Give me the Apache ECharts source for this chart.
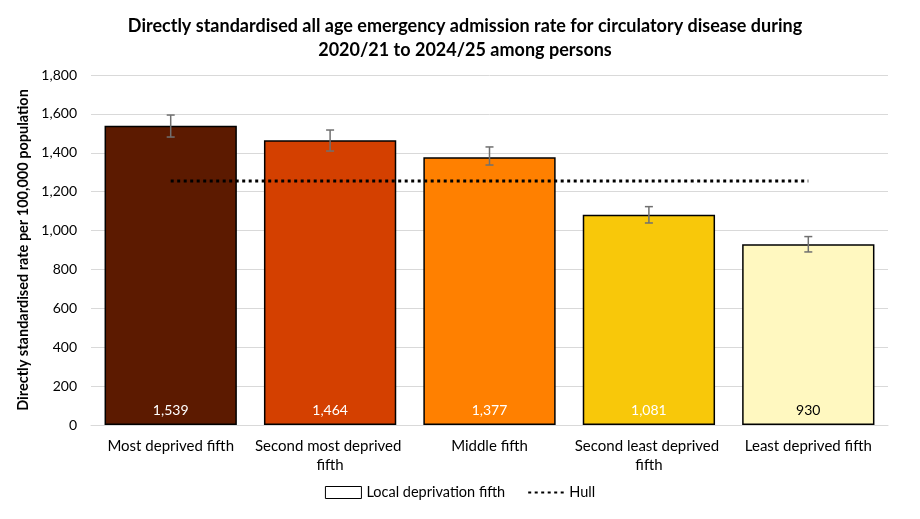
<!DOCTYPE html>
<html lang="en">
<head>
    <meta charset="UTF-8">
    <title>Emergency admission rate - circulatory disease</title>
    <script src="https://cdn.jsdelivr.net/npm/echarts@6/dist/echarts.min.js"></script>
    <style>
        body { margin: 0; background: #fff; }
        #main { width: 920px; height: 519px; }
    </style>
</head>
<body>
    <div id="main"></div>
</body>
<script>
    // values
    var categories = ['Most deprived fifth', 'Second most deprived fifth', 'Middle fifth', 'Second least deprived fifth', 'Least deprived fifth'];
    var rates = [1539, 1464, 1377, 1081, 930];
    var lowerCI = [1481, 1409, 1337, 1039, 890];
    var upperCI = [1594, 1517, 1430, 1123, 969];
    var hullRate = [1255, 1255, 1255, 1255, 1255];
    var barColors = ['#5C1A00', '#D44000', '#FF8000', '#F8C80A', '#FFF8C0'];
    var labelColors = ['#fff', '#fff', '#fff', '#fff', '#000'];

    var font = 'Lato, "Open Sans", sans-serif';

    var chart = echarts.init(document.getElementById('main'));
    chart.setOption({
        textStyle: { fontFamily: font },
        title: {
            text: 'Directly standardised all age emergency admission rate for circulatory disease during\n2020/21 to 2024/25 among persons',
            left: 460,
            top: 9,
            textAlign: 'center',
            textStyle: { fontSize: 18, fontWeight: 'bold', color: '#000', lineHeight: 24, fontFamily: font, align: 'center' }
        },
        legend: {
            bottom: 14,
            left: 'center',
            itemWidth: 36,
            itemHeight: 12,
            itemGap: 22,
            textStyle: { fontSize: 14.5, color: '#000', fontFamily: font },
            data: [
                { name: 'Local deprivation fifth', icon: 'rect', itemStyle: { color: '#fff', borderColor: '#000', borderWidth: 1 } },
                { name: 'Hull', itemStyle: { opacity: 0 } }
            ]
        },
        grid: { left: 91, right: 32, top: 75, bottom: 94 },
        xAxis: {
            type: 'category',
            data: categories,
            axisLine: { lineStyle: { color: '#d9d9d9' } },
            axisTick: { show: false },
            axisLabel: {
                color: '#000', fontSize: 15, margin: 12, lineHeight: 19,
                width: 160, overflow: 'break', interval: 0
            }
        },
        yAxis: {
            type: 'value',
            min: 0,
            max: 1800,
            interval: 200,
            name: 'Directly standardised rate per 100,000 population',
            nameLocation: 'middle',
            nameGap: 58,
            nameTextStyle: { fontSize: 14.5, fontWeight: 'bold', color: '#000' },
            axisLine: { show: false },
            axisTick: { show: false },
            axisLabel: {
                color: '#000', fontSize: 14, margin: 14,
                formatter: function (v) { return v.toLocaleString('en-GB'); }
            },
            splitLine: { lineStyle: { color: '#d9d9d9' } }
        },
        series: [
            {
                name: 'Local deprivation fifth',
                type: 'bar',
                barCategoryGap: '17%',
                data: rates.map(function (v, i) {
                    return {
                        value: v,
                        itemStyle: { color: barColors[i] },
                        label: { color: labelColors[i] }
                    };
                }),
                itemStyle: { borderColor: '#000', borderWidth: 1.5 },
                label: {
                    show: true,
                    position: 'insideBottom',
                    distance: 8,
                    fontSize: 14,
                    formatter: function (p) { return p.value.toLocaleString('en-GB'); }
                },
                z: 2
            },
            {
                name: 'Hull',
                type: 'line',
                data: hullRate,
                symbol: 'none',
                lineStyle: { color: '#000', width: 3, type: [3, 3.5] },
                itemStyle: { color: '#000' },
                z: 3
            },
            {
                name: 'ci',
                type: 'custom',
                data: categories.map(function (c, i) { return [i, lowerCI[i], upperCI[i]]; }),
                renderItem: function (params, api) {
                    var lo = api.coord([api.value(0), api.value(1)]);
                    var hi = api.coord([api.value(0), api.value(2)]);
                    var w = 4;
                    var st = { stroke: '#707070', lineWidth: 1.5 };
                    return {
                        type: 'group',
                        children: [
                            { type: 'line', shape: { x1: hi[0], y1: hi[1], x2: lo[0], y2: lo[1] }, style: st },
                            { type: 'line', shape: { x1: hi[0] - w, y1: hi[1], x2: hi[0] + w, y2: hi[1] }, style: st },
                            { type: 'line', shape: { x1: lo[0] - w, y1: lo[1], x2: lo[0] + w, y2: lo[1] }, style: st }
                        ]
                    };
                },
                z: 4
            }
        ]
    });
</script>
</html>
